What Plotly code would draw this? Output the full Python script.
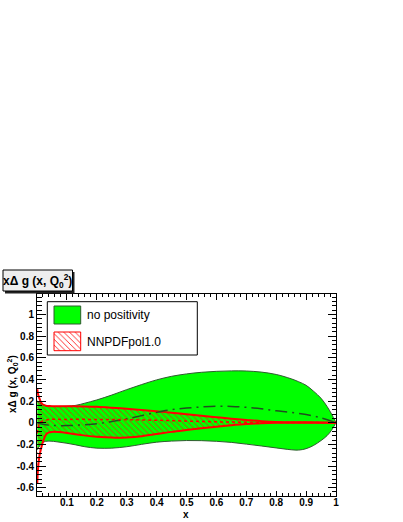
import plotly.graph_objects as go

# ---------------- data ----------------
x_green = [0.001, 0.01, 0.02, 0.04, 0.07, 0.1, 0.13, 0.16, 0.2, 0.25, 0.3, 0.35, 0.4, 0.45,
           0.5, 0.55, 0.6, 0.65, 0.7, 0.75, 0.8, 0.85, 0.875, 0.9, 0.925, 0.95, 0.97, 0.985, 1.0]
green_up = [0.20, 0.18, 0.165, 0.152, 0.15, 0.152, 0.16, 0.18, 0.21, 0.255, 0.305, 0.352, 0.395, 0.428,
            0.45, 0.465, 0.474, 0.478, 0.477, 0.467, 0.445, 0.405, 0.378, 0.345, 0.29, 0.225, 0.15, 0.08, 0.0]
green_lo = [-0.25, -0.21, -0.18, -0.17, -0.178, -0.19, -0.205, -0.222, -0.235, -0.235, -0.222, -0.2, -0.18, -0.17,
            -0.165, -0.166, -0.172, -0.182, -0.198, -0.215, -0.233, -0.25, -0.253, -0.24, -0.21, -0.165, -0.12, -0.07, 0.0]

x_green_mid = [0.001, 0.02, 0.05, 0.1, 0.15, 0.2, 0.25, 0.3, 0.35, 0.4, 0.45, 0.5, 0.55, 0.6, 0.65,
               0.7, 0.75, 0.8, 0.85, 0.9, 0.95, 1.0]
green_mid = [0.0, -0.015, -0.025, -0.027, -0.02, -0.01, 0.01, 0.035, 0.065, 0.095, 0.12, 0.135, 0.145, 0.152, 0.15,
             0.142, 0.128, 0.11, 0.095, 0.075, 0.045, 0.0]

x_red = [0.001, 0.003, 0.008, 0.014, 0.02, 0.03, 0.04, 0.05, 0.1, 0.15, 0.2, 0.25, 0.3, 0.35, 0.4, 0.45,
         0.5, 0.55, 0.6, 0.65, 0.7, 0.75, 0.8, 0.9, 1.0]
red_up = [0.31, 0.27, 0.225, 0.185, 0.168, 0.157, 0.154, 0.152, 0.152, 0.15, 0.146, 0.138, 0.128, 0.117, 0.105, 0.092,
          0.078, 0.064, 0.05, 0.037, 0.025, 0.014, 0.007, 0.004, 0.0]
red_lo = [-0.56, -0.44, -0.31, -0.236, -0.175, -0.11, -0.09, -0.085, -0.095, -0.115, -0.13, -0.138, -0.136, -0.125, -0.105, -0.085,
          -0.068, -0.052, -0.037, -0.024, -0.013, -0.005, -0.001, 0.0, 0.0]

x_red_mid = [0.001, 0.01, 0.03, 0.1, 0.2, 0.3, 0.4, 0.5, 0.6, 0.7, 0.8, 1.0]
red_mid = [-0.1, 0.0, 0.025, 0.03, 0.03, 0.028, 0.022, 0.015, 0.008, 0.004, 0.002, 0.0]

x_ticks = [0.1, 0.2, 0.3, 0.4, 0.5, 0.6, 0.7, 0.8, 0.9, 1.0]
x_tick_labels = ["0.1", "0.2", "0.3", "0.4", "0.5", "0.6", "0.7", "0.8", "0.9", "1"]
y_ticks = [-0.6, -0.4, -0.2, 0, 0.2, 0.4, 0.6, 0.8, 1.0]
y_tick_labels = ["-0.6", "-0.4", "-0.2", "0", "0.2", "0.4", "0.6", "0.8", "1"]

legend_labels = ["no positivity", "NNPDFpol1.0"]

# ---------------- layout geometry ----------------
W, H = 403, 522
L, R, T, B = 37, 67, 294, 26
PW, PH = W - L - R, H - T - B


def xp(px):
    return (px - L) / PW


def yp(py):
    return (H - B - py) / PH


GREEN = "#00ff00"
GREEN_EDGE = "#2f5a2f"
FONT = "Liberation Sans"
hatch = dict(shape="\\", fgcolor="#e8200a", bgcolor="rgba(0,0,0,0)", size=4, solidity=0.2)

fig = go.Figure()

# green band (no positivity)
fig.add_trace(go.Scatter(x=x_green, y=green_lo, mode="lines", line=dict(color=GREEN_EDGE, width=1, shape="spline"),
                         showlegend=False, hoverinfo="skip"))
fig.add_trace(go.Scatter(x=x_green, y=green_up, mode="lines", line=dict(color=GREEN_EDGE, width=1, shape="spline"),
                         fill="tonexty", fillcolor=GREEN, showlegend=False, hoverinfo="skip"))
# red hatched band (NNPDFpol1.0)
fig.add_trace(go.Scatter(x=x_red, y=red_lo, mode="lines", line=dict(color="#ff0000", width=2, shape="spline"),
                         showlegend=False, hoverinfo="skip"))
fig.add_trace(go.Scatter(x=x_red, y=red_up, mode="lines", line=dict(color="#ff0000", width=2, shape="spline"),
                         fill="tonexty", fillcolor="rgba(0,0,0,0)", fillpattern=hatch,
                         showlegend=False, hoverinfo="skip"))
# central curves
fig.add_trace(go.Scatter(x=x_green_mid, y=green_mid, mode="lines",
                         line=dict(color="#1f4f1f", width=1.5, dash="12px,5px,2px,5px", shape="spline"),
                         showlegend=False, hoverinfo="skip"))
fig.add_trace(go.Scatter(x=x_red_mid, y=red_mid, mode="lines",
                         line=dict(color="#ff0000", width=1.5, dash="dot", shape="spline"),
                         showlegend=False, hoverinfo="skip"))

# legend swatches on a pixel-space overlay axis
sw_x = [54, 80.7, 80.7, 54, 54]
fig.add_trace(go.Scatter(x=sw_x, y=[306, 306, 324, 324, 306], xaxis="x2", yaxis="y2", mode="lines",
                         fill="toself", fillcolor=GREEN, line=dict(color=GREEN_EDGE, width=1),
                         showlegend=False, hoverinfo="skip"))
fig.add_trace(go.Scatter(x=sw_x, y=[332, 332, 350.7, 350.7, 332], xaxis="x2", yaxis="y2", mode="lines",
                         fill="toself", fillcolor="white",
                         fillpattern=dict(shape="\\", fgcolor="#ff0000", bgcolor="white", size=4, solidity=0.2),
                         line=dict(color="#ff0000", width=1),
                         showlegend=False, hoverinfo="skip"))

shapes = [
    # legend frame
    dict(type="rect", xref="paper", yref="paper", x0=xp(47.3), x1=xp(197.3), y0=yp(355), y1=yp(301.7),
         line=dict(color="black", width=1), fillcolor="white", layer="below"),
    # title box shadow + box
    dict(type="rect", xref="paper", yref="paper", x0=xp(5), x1=xp(74.5), y0=yp(293.5), y1=yp(272),
         line=dict(width=0), fillcolor="#222222", layer="above"),
    dict(type="rect", xref="paper", yref="paper", x0=xp(3), x1=xp(72.5), y0=yp(291), y1=yp(270),
         line=dict(color="black", width=1), fillcolor="#eeeeee", layer="above"),
]

annotations = [
    dict(text="<b>xΔ g (x, Q<sub>0</sub><sup>2</sup>)</b>", xref="paper", yref="paper", x=xp(37.5), y=yp(281),
         xanchor="center", yanchor="middle", showarrow=False, font=dict(family=FONT, size=12, color="black")),
    dict(text="<b>xΔ g (x, Q<sub>0</sub><sup>2</sup>)</b>", xref="paper", yref="paper", x=xp(12), y=yp(384),
         xanchor="center", yanchor="middle", textangle=-90, showarrow=False,
         font=dict(family=FONT, size=10, color="black")),
    dict(text="<b>x</b>", xref="paper", yref="paper", x=xp(186), y=yp(514),
         xanchor="center", yanchor="middle", showarrow=False, font=dict(family=FONT, size=10, color="black")),
    dict(text=legend_labels[0], xref="paper", yref="paper", x=xp(85), y=yp(314.5),
         xanchor="left", yanchor="middle", showarrow=False, font=dict(family=FONT, size=12, color="black")),
    dict(text=legend_labels[1], xref="paper", yref="paper", x=xp(85), y=yp(341.5),
         xanchor="left", yanchor="middle", showarrow=False, font=dict(family=FONT, size=12, color="black")),
]

fig.update_layout(
    template="none",
    width=W, height=H,
    margin=dict(l=L, r=R, t=T, b=B, pad=0, autoexpand=False),
    paper_bgcolor="white", plot_bgcolor="white",
    showlegend=False,
    shapes=shapes, annotations=annotations,
    xaxis=dict(range=[0, 1], tickvals=x_ticks, ticktext=x_tick_labels, automargin=False,
               showgrid=False, zeroline=False, showline=True, linecolor="black", linewidth=1,
               mirror="allticks", ticks="inside", ticklen=5.5, tickwidth=1, tickcolor="black",
               ticklabelstandoff=-3,
               minor=dict(ticks="inside", ticklen=3, dtick=0.02, tick0=0, tickcolor="black", showgrid=False),
               tickfont=dict(family=FONT, size=10, color="black", weight="bold")),
    yaxis=dict(range=[-0.677, 1.188], tickvals=y_ticks, ticktext=y_tick_labels, automargin=False,
               showgrid=False, zeroline=False, showline=True, linecolor="black", linewidth=1,
               mirror="allticks", ticks="inside", ticklen=8.5, tickwidth=1, tickcolor="black",
               minor=dict(ticks="inside", ticklen=4.5, dtick=0.04, tick0=0, tickcolor="black", showgrid=False),
               tickfont=dict(family=FONT, size=10, color="black", weight="bold")),
    xaxis2=dict(overlaying="x", range=[L, W - R], visible=False),
    yaxis2=dict(overlaying="y", range=[H - B, T], visible=False),
)

fig.write_html(
    "out.html",
    config={"displayModeBar": False, "staticPlot": True},
    post_script="document.body.style.margin='0';document.body.style.padding='0';"
                "document.body.style.overflow='hidden';",
)
